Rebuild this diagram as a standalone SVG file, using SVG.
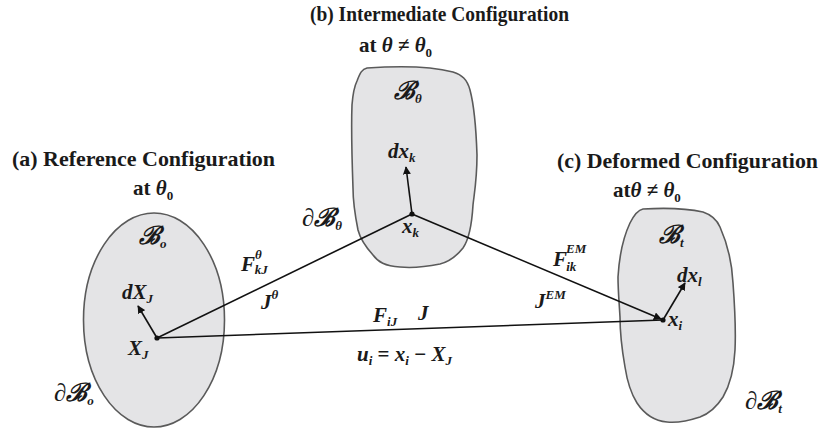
<svg xmlns="http://www.w3.org/2000/svg" width="821" height="429" viewBox="0 0 821 429">
<defs>
<style>
.body{fill:#e4e4e6;stroke:#5a5a5a;stroke-width:1.6}
.ttl{font-family:"Liberation Serif","Times New Roman",serif;font-weight:bold;font-size:21px;fill:#1a1a1a}
.m{font-family:"Liberation Serif","Times New Roman",serif;font-style:italic;font-weight:bold;font-size:21px;fill:#1a1a1a}
.s{font-size:13px}
.b{font-size:25px}
.up{font-family:"Liberation Serif",serif;font-style:normal;font-weight:bold}
.cn{stroke:#111;stroke-width:1.6;fill:none}
.vec{stroke:#111;stroke-width:1.6;fill:none;marker-end:url(#ah)}
</style>
<marker id="ah" viewBox="0 0 10 10" refX="9" refY="5" markerWidth="5" markerHeight="5" orient="auto" markerUnits="strokeWidth">
<path d="M0,0 L10,5 L0,10 z" fill="#111"/>
</marker>
</defs>

<g id="ref">
<ellipse class="body" cx="154" cy="320" rx="70.5" ry="107"/>
<text class="ttl" x="12" y="166" textLength="263" lengthAdjust="spacingAndGlyphs">(a) Reference Configuration</text>
<text class="ttl" x="133" y="195">at <tspan class="m" font-size="24">θ</tspan><tspan class="s" dy="5" font-weight="bold">0</tspan></text>
<text class="m" x="139" y="244"><tspan class="b">ℬ</tspan><tspan class="s" dy="4">o</tspan></text>
<text class="m" x="54" y="401"><tspan class="b">∂ℬ</tspan><tspan class="s" dy="4">o</tspan></text>
<text class="m" x="122" y="299">dX<tspan class="s" dy="4">J</tspan></text>
<text class="m" x="128" y="355">X<tspan class="s" dy="4">J</tspan></text>
<circle cx="157" cy="338" r="2.6" fill="#111"/>
</g>

<g id="inter">
<path class="body" d="M367,68 C395,66 430,66 453,72 C462,75 467,79 470,90 C474,105 476,125 477,155 C477,180 474,195 473,205 C472,222 470,238 463,248 C455,258 448,262 440,264 C425,267 410,268 400,267 C385,266 378,262 373,255 C364,245 360,238 358,230 C355,215 353,200 353,188 C352,160 351,130 352,105 C353,92 355,85 357,81 C360,73 362,69 367,68 Z"/>
<text class="ttl" x="310" y="21" textLength="259" lengthAdjust="spacingAndGlyphs">(b) Intermediate  Configuration</text>
<text class="ttl" x="359" y="52">at <tspan class="m" font-size="24">θ</tspan> ≠ <tspan class="m" font-size="24">θ</tspan><tspan class="s" dy="5">0</tspan></text>
<text class="m" x="394" y="99"><tspan class="b">ℬ</tspan><tspan class="s" dy="4">θ</tspan></text>
<text class="m" x="302" y="226"><tspan class="b">∂ℬ</tspan><tspan class="s" dy="4">θ</tspan></text>
<text class="m" x="388" y="158">dx<tspan class="s" dy="4">k</tspan></text>
<text class="m" x="402" y="233">x<tspan class="s" dy="4">k</tspan></text>
<circle cx="412" cy="214" r="2.6" fill="#111"/>
</g>

<g id="def">
<path class="body" d="M643,209 C660,208 685,208 703,212 C712,215 717,220 720,227 C728,245 732,262 733,283 C735,310 736,330 735,350 C734,370 730,385 723,397 C716,408 708,414 700,417 C688,421 677,423 667,422 C655,421 645,415 637,403 C630,392 627,380 625,367 C622,350 620,335 620,317 C619,300 618,290 618,277 C619,260 622,240 630,223 C634,215 638,210 643,209 Z"/>
<text class="ttl" x="557" y="168" textLength="261" lengthAdjust="spacingAndGlyphs">(c) Deformed  Configuration</text>
<text class="ttl" x="613" y="197">at<tspan class="m" font-size="24">θ</tspan> ≠ <tspan class="m" font-size="24">θ</tspan><tspan class="s" dy="5">0</tspan></text>
<text class="m" x="659" y="243"><tspan class="b">ℬ</tspan><tspan class="s" dy="4">t</tspan></text>
<text class="m" x="745" y="409"><tspan class="b">∂ℬ</tspan><tspan class="s" dy="4">t</tspan></text>
<text class="m" x="677" y="282">dx<tspan class="s" dy="4">l</tspan></text>
<text class="m" x="668" y="326">x<tspan class="s" dy="4">i</tspan></text>
<circle cx="663" cy="320" r="2.6" fill="#111"/>
</g>

<g id="connectors">
<line class="cn" x1="157" y1="338" x2="412" y2="214"/>
<line class="cn" x1="157" y1="338" x2="663" y2="320"/>
<line class="vec" x1="412" y1="214" x2="661" y2="319"/>
<line class="vec" x1="157" y1="338" x2="138" y2="306"/>
<line class="vec" x1="412" y1="214" x2="406" y2="167"/>
<line class="vec" x1="663" y1="320" x2="685" y2="283"/>
</g>

<g id="labels">
<text class="m" x="241" y="271">F<tspan class="s" dy="-12">θ</tspan><tspan class="s" font-size="12" dx="-7" dy="15">kJ</tspan></text>
<text class="m" x="261" y="309">J<tspan class="s" dy="-10">θ</tspan></text>
<text class="m" x="553" y="266">F<tspan class="s" dx="-1" dy="-13">EM</tspan><tspan class="s" dx="-20" dy="18">ik</tspan></text>
<text class="m" x="535" y="308">J<tspan class="s" dy="-9">EM</tspan></text>
<text class="m" x="373" y="322">F<tspan class="s" dy="4">iJ</tspan></text>
<text class="m" x="418" y="320">J</text>
<text class="m" x="357" y="361">u<tspan class="s" dy="4">i</tspan><tspan dy="-4" class="up"> = </tspan>x<tspan class="s" dy="4">i</tspan><tspan dy="-4" class="up"> − </tspan>X<tspan class="s" dy="4">J</tspan></text>
</g>
</svg>
